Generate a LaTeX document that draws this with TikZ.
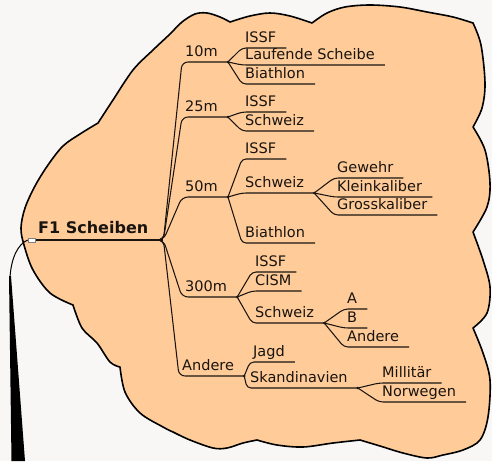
\documentclass[tikz,border=0pt]{standalone}
\usepackage{fontspec}
\setmainfont{DejaVu Sans}
\definecolor{bgc}{RGB}{248,247,245}
\definecolor{cloudc}{RGB}{255,204,153}
\definecolor{inkc}{RGB}{25,20,15}
\tikzset{
  topic/.style={inner sep=0pt, anchor=base west, font=\fontsize{14.5}{17}\selectfont, text=inkc},
  rootstyle/.style={inner sep=0pt, anchor=base west, font=\fontsize{16}{19}\selectfont\bfseries, text=inkc},
  conn/.style={draw=inkc, line width=1.05pt, rounded corners=4pt},
  trunk/.style={conn, rounded corners=6pt},
  cloud/.style={fill=cloudc, draw=black, line width=1.6pt, line join=round},
  rootmark/.style={draw=gray, fill=white, minimum width=7pt, minimum height=3.5pt, inner sep=0pt, line width=0.5pt},
}
\begin{document}
\begin{tikzpicture}[x=1pt,y=-1pt]
\fill[bgc] (0,0) rectangle (492,461);
\useasboundingbox (0,0) rectangle (492,461);
% cloud
\path[cloud] plot[smooth, tension=0.55] coordinates {(73,305) (50,293) (33,270) (24,245) (21,228) (25,208) (35,186) (48,165) (63,146) (80,134) (98,123)}
 -- plot[smooth, tension=0.55] coordinates {(98,123) (113,100) (133,70) (153,50) (170,34) (182,22) (195,14) (207,13) (220,17) (230,22)}
 -- plot[smooth, tension=0.55] coordinates {(230,22) (250,16) (270,13) (290,16) (312,23)}
 -- plot[smooth, tension=0.55] coordinates {(312,23) (327,13) (345,7) (370,5) (400,7) (427,12) (453,17) (473,23)}
 -- plot[smooth, tension=0.55] coordinates {(473,23) (481,45) (485,83) (482,108) (473,127)}
 -- plot[smooth, tension=0.55] coordinates {(473,127) (485,150) (490,183) (487,207) (473,232)}
 -- plot[smooth, tension=0.55] coordinates {(473,232) (483,260) (490,287) (487,313) (473,328)}
 -- plot[smooth, tension=0.55] coordinates {(473,328) (483,353) (490,380) (488,417) (480,440) (463,450) (443,455) (427,458) (403,453) (380,446) (360,440)}
 -- plot[smooth, tension=0.55] coordinates {(360,440) (333,443) (303,447) (277,445) (257,440)}
 -- plot[smooth, tension=0.55] coordinates {(257,440) (243,443) (227,448) (213,448) (190,440) (173,432)}
 -- plot[smooth, tension=0.55] coordinates {(173,432) (163,427) (140,413) (125,392) (120,367)}
 -- plot[smooth, tension=0.55] coordinates {(120,367) (110,362) (97,343) (82,328) (73,305)}
 -- cycle;
% root
\node[rootmark] (rd) at (31.5,240) {};
\node[rootstyle] (root) at (38,233.5) {F1 Scheiben};
\coordinate (root-l) at (rd.east);
\coordinate (root-r) at ([shift={(15,6.5)}]root.base east);
% tail
\draw[black, line width=1pt] (rd.west) .. controls (18,244) and (11,258) .. (10,278);
\fill[black] (9,276) -- (11.5,461) -- (25,461) -- (11,276) -- cycle;
% topics
\node[topic] (a10) at (185,56) {10m};
\node[topic] (a25) at (185,111) {25m};
\node[topic] (a50) at (185,191) {50m};
\node[topic] (a300) at (185,291) {300m};
\node[topic] (aand) at (182,370) {Andere};
\node[topic] (b10i) at (245,42) {ISSF};
\node[topic] (b10l) at (245,59) {Laufende Scheibe};
\node[topic] (b10b) at (245,78) {Biathlon};
\node[topic] (b25i) at (245,106) {ISSF};
\node[topic] (b25s) at (245,125) {Schweiz};
\node[topic] (b50i) at (245,153) {ISSF};
\node[topic] (b50s) at (245,187) {Schweiz};
\node[topic] (b50b) at (245,237) {Biathlon};
\node[topic] (c50g) at (337,172) {Gewehr};
\node[topic] (c50k) at (337,191) {Kleinkaliber};
\node[topic] (c50r) at (337,209) {Grosskaliber};
\node[topic] (b300i) at (255,266) {ISSF};
\node[topic] (b300c) at (255,285) {CISM};
\node[topic] (b300s) at (255,317) {Schweiz};
\node[topic] (c300a) at (347,303) {A};
\node[topic] (c300b) at (347,322) {B};
\node[topic] (c300n) at (347,341) {Andere};
\node[topic] (bandj) at (253,356) {Jagd};
\node[topic] (bands) at (250,382) {Skandinavien};
\node[topic] (cskm) at (382,377) {Millitär};
\node[topic] (cskn) at (382,396) {Norwegen};
\foreach \n in {a10,a25,a50,a300,aand,b10i,b10l,b10b,b25i,b25s,b50i,b50s,b50b,c50g,c50k,c50r,b300i,b300c,b300s,c300a,c300b,c300n,bandj,bands,cskm,cskn}{
  \coordinate (\n-l) at ([shift={(-3,6)}]\n.base west);
  \coordinate (\n-r) at ([shift={(10,6)}]\n.base east);
}
% connectors
\draw[conn] (root-l) -- (root-r);
\foreach \c in {a10,a25,a50,a300,aand}
  \draw[trunk] (root-l) -- (root-r) -- (\c-l) -- (\c-r);
\foreach \p/\c in {a10/b10i,a10/b10l,a10/b10b,a25/b25i,a25/b25s,a50/b50i,a50/b50s,a50/b50b,b50s/c50g,b50s/c50k,b50s/c50r,a300/b300i,a300/b300c,a300/b300s,b300s/c300a,b300s/c300b,b300s/c300n,aand/bandj,aand/bands,bands/cskm,bands/cskn}
  \draw[conn] (\p-r) -- (\c-l) -- (\c-r);
\foreach \n in {a10,a25,a50,a300,aand,b50s,b300s,bands}
  \fill[inkc] (\n-r) circle (1.4pt);
\node[rootmark] at (rd) {};
\end{tikzpicture}
\end{document}
